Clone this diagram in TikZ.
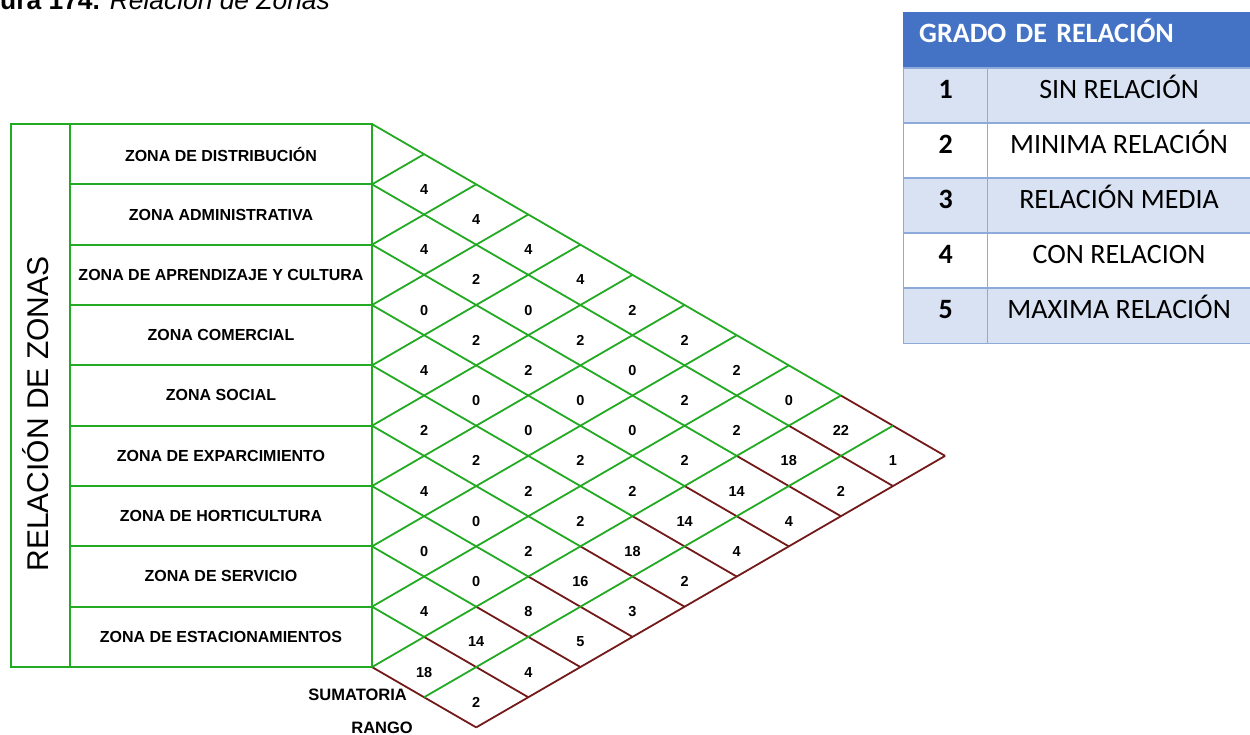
\documentclass[tikz,border=0pt]{standalone}
\usepackage{fontspec}
\setmainfont{Liberation Sans}
\newfontfamily\calibri{Carlito}
\usetikzlibrary{positioning}
\definecolor{zgreen}{RGB}{34,170,34}
\definecolor{zbrown}{RGB}{115,25,25}
\definecolor{tblue}{RGB}{68,114,196}
\definecolor{tlight}{RGB}{217,226,243}
\definecolor{tborder}{RGB}{142,170,219}
\tikzset{
  zona/.style={draw=zgreen, line width=1.8pt, font=\fontsize{16}{18}\selectfont\bfseries,
               minimum width=302pt, minimum height=60.33pt, inner sep=0pt},
  valor/.style={font=\fontsize{14.5}{16}\selectfont\bfseries, inner sep=0pt, yshift=-5pt},
  rotulo/.style={font=\fontsize{16.5}{18}\selectfont\bfseries, inner sep=0pt, anchor=east},
  gcell/.style={draw=tborder, line width=1.2pt, fill=#1, anchor=north west,
                minimum height=55pt, inner xsep=0pt, inner ysep=0pt,
                text height=20pt, text depth=15pt},
  gnum/.style={gcell=#1, minimum width=84pt, font=\calibri\fontsize{28}{30}\selectfont\bfseries},
  gtxt/.style={gcell=#1, minimum width=263pt, font=\calibri\fontsize{28}{30}\selectfont},
  ghead/.style={draw=tblue, fill=tblue, anchor=north west, text=white,
                minimum width=347pt, minimum height=55pt, inner xsep=16pt, inner ysep=0pt,
                text width=315pt, align=left, text height=20.5pt, text depth=14.5pt,
                font=\calibri\fontsize{28}{30}\selectfont\bfseries},
}

\begin{document}
\begin{tikzpicture}[x=1pt, y=-1pt]
\useasboundingbox (0,0) rectangle (1250,735);

% Caption (cut at the top)
\node[anchor=base west, inner sep=0pt, font=\fontsize{26.4}{28}\selectfont] (figura) at (0,9.5)
      {\textbf{ura 174.} \textit{Relación de Zonas}};

% Zones table
\draw[zgreen, line width=1.8pt] (11,124) rectangle (70,667);
\node[rotate=90, anchor=base, inner sep=0pt, font=\fontsize{30}{32}\selectfont] (titulo) at (48,414)
      {RELACIÓN DE ZONAS};
\foreach \z [count=\i from 0] in {ZONA DE DISTRIBUCIÓN, ZONA ADMINISTRATIVA,
    ZONA DE APRENDIZAJE Y CULTURA, ZONA COMERCIAL, ZONA SOCIAL, ZONA DE EXPARCIMIENTO,
    ZONA DE HORTICULTURA, ZONA DE SERVICIO, ZONA DE ESTACIONAMIENTOS}
  \node[zona] (z\i) at (221,{154.17+60.33*\i}) {\z};

% Relation grid
\begin{scope}[shift={(372,124)}, x=52.1pt, y=-30.17pt, line width=1.8pt]
  \foreach \k in {0,...,9}{
    \draw[zgreen] (0,2*\k) -- (9-\k,9+\k);
    \draw[zbrown] (9-\k,9+\k) -- (11-\k,11+\k);
  }
  \foreach \m in {1,...,9}
    \draw[zgreen] (0,2*\m) -- (\m,\m);
  \draw[zgreen] (1,19) -- (10,10);
  \draw[zbrown] (2,20) -- (11,11);

  % values, sums and ranks
  \foreach \u/\v/\n in {1/2/4, 2/3/4, 3/4/4, 4/5/4, 5/6/2, 6/7/2, 7/8/2, 8/9/0, 9/10/22, 10/11/1,
      1/4/4, 2/5/2, 3/6/0, 4/7/2, 5/8/0, 6/9/2, 7/10/2, 8/11/18, 9/12/2,
      1/6/0, 2/7/2, 3/8/2, 4/9/0, 5/10/0, 6/11/2, 7/12/14, 8/13/4,
      1/8/4, 2/9/0, 3/10/0, 4/11/2, 5/12/2, 6/13/14, 7/14/4,
      1/10/2, 2/11/2, 3/12/2, 4/13/2, 5/14/18, 6/15/2,
      1/12/4, 2/13/0, 3/14/2, 4/15/16, 5/16/3,
      1/14/0, 2/15/0, 3/16/8, 4/17/5,
      1/16/4, 2/17/14, 3/18/4,
      1/18/18, 2/19/2}
    \node[valor] (v\u-\v) at (\u,\v) {\n};
\end{scope}

\node[rotulo] (suma) at (407,695) {SUMATORIA};
\node[rotulo] (rango) at (413,728) {RANGO};

% Legend
\node[ghead] (grado) at (903,12) {GRADO DE RELACIÓN};
\foreach \n/\t/\c [count=\k from 0] in {1/SIN RELACIÓN/tlight, 2/MINIMA RELACIÓN/white,
    3/RELACIÓN MEDIA/tlight, 4/CON RELACION/white, 5/MAXIMA RELACIÓN/tlight}{
  \node[gnum=\c] (g\n) at (903,{67.5+55*\k}) {\n};
  \node[gtxt=\c] (t\n) at (987,{67.5+55*\k}) {\t};
}

\end{tikzpicture}
\end{document}
